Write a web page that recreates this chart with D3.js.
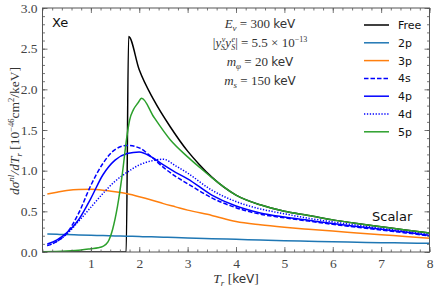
<!DOCTYPE html>
<html>
<head>
<meta charset="utf-8">
<script src="https://d3js.org/d3.v7.min.js"></script>
<style>
  body { margin:0; background:#fff; }
  svg text { fill:#333; }
  .serif { font-family:"Liberation Serif", "DejaVu Serif", serif; }
  .sans { font-family:"DejaVu Sans", "Noto Sans", sans-serif; }
</style>
</head>
<body>
<script>
// recoil energy grid (keV) shared by the bound-shell curves
const T = [0.1, 0.3, 0.5, 0.75, 1, 1.25, 1.5, 1.75, 2, 2.25, 2.5, 2.75, 3, 3.5, 4, 4.5, 5, 5.5, 6, 6.5, 7, 7.5, 8];
const s2p = [0.22, 0.217, 0.214, 0.21, 0.206, 0.202, 0.198, 0.195, 0.19, 0.186, 0.182, 0.178, 0.173, 0.164, 0.156, 0.147, 0.139, 0.132, 0.126, 0.12, 0.115, 0.111, 0.107];
const s3p = [0.713, 0.735, 0.755, 0.768, 0.77, 0.76, 0.74, 0.715, 0.68, 0.64, 0.595, 0.555, 0.515, 0.45, 0.375, 0.335, 0.305, 0.28, 0.257, 0.235, 0.213, 0.19, 0.168];
const s4s = [0.078, 0.13, 0.23, 0.48, 0.82, 1.09, 1.26, 1.31, 1.28, 1.17, 1.04, 0.93, 0.84, 0.665, 0.545, 0.465, 0.42, 0.38, 0.34, 0.305, 0.27, 0.235, 0.198];
const s4p = [0.098, 0.15, 0.235, 0.40, 0.66, 0.95, 1.13, 1.21, 1.23, 1.17, 1.07, 0.98, 0.90, 0.70, 0.565, 0.48, 0.43, 0.39, 0.35, 0.315, 0.28, 0.245, 0.205];
const s4d = [0.08, 0.13, 0.22, 0.38, 0.55, 0.72, 0.87, 0.98, 1.07, 1.12, 1.14, 1.06, 0.97, 0.76, 0.62, 0.53, 0.47, 0.415, 0.37, 0.33, 0.29, 0.255, 0.22];

// free electron and 5p have their own grids (sharp threshold near 1.75 keV)
const freeT = [0, 1.73, 1.78, 2.0, 2.3, 2.64, 3.0, 3.25, 3.5, 4, 4.5, 5, 5.5, 6, 6.5, 7, 7.5, 8];
const freeV = [0, 0, 2.65, 2.24, 1.87, 1.54, 1.24, 1.07, 0.92, 0.70, 0.58, 0.50, 0.45, 0.395, 0.35, 0.31, 0.27, 0.235];
const s5pT = [0, 0.5, 0.8, 1.0, 1.15, 1.25, 1.35, 1.45, 1.55, 1.65, 1.74, 1.8, 1.88, 1.97, 2.05, 2.3, 2.64, 3.0, 3.25, 3.5, 4, 4.5, 5, 5.5, 6, 6.5, 7, 7.5, 8];
const s5pV = [0.003, 0.012, 0.025, 0.04, 0.052, 0.07, 0.12, 0.28, 0.56, 0.96, 1.40, 1.62, 1.75, 1.83, 1.89, 1.66, 1.38, 1.17, 1.04, 0.915, 0.70, 0.58, 0.50, 0.45, 0.395, 0.35, 0.31, 0.27, 0.235];

const series = [
  { name: "Free", xs: freeT, ys: freeV, color: "#000000", dash: null },
  { name: "2p", xs: T, ys: s2p, color: "#1f77b4", dash: null },
  { name: "3p", xs: T, ys: s3p, color: "#ff7f0e", dash: null },
  { name: "4s", xs: T, ys: s4s, color: "#0000ff", dash: "4.5,2" },
  { name: "4p", xs: T, ys: s4p, color: "#0000ff", dash: null },
  { name: "4d", xs: T, ys: s4d, color: "#0000ff", dash: "1.3,1.6" },
  { name: "5p", xs: s5pT, ys: s5pV, color: "#2ca02c", dash: null }
];

const xTicks = [1, 2, 3, 4, 5, 6, 7, 8];
const yTicks = [0, 0.5, 1, 1.5, 2, 2.5, 3];

const width = 436, height = 290;
const x = d3.scaleLinear().domain([0, 8]).range([42.5, 429.5]);
const y = d3.scaleLinear().domain([0, 3]).range([252, 8]);

const svg = d3.select("body").append("svg")
  .attr("width", width).attr("height", height);

svg.append("defs").append("clipPath").attr("id", "clip")
  .append("rect").attr("x", x(0)).attr("y", y(3))
  .attr("width", x(8) - x(0)).attr("height", y(0) - y(3));

const line = d3.line().x(d => x(d[0])).y(d => y(d[1])).curve(d3.curveMonotoneX);

const plot = svg.append("g").attr("clip-path", "url(#clip)");
// draw order: free first, then shells
const order = ["Free", "2p", "3p", "4d", "4s", "4p", "5p"];
order.forEach(n => {
  const s = series.find(d => d.name === n);
  plot.append("path")
    .datum(s.xs.map((t, i) => [t, s.ys[i]]))
    .attr("d", line)
    .attr("fill", "none")
    .attr("stroke", s.color)
    .attr("stroke-width", 1.5)
    .attr("stroke-dasharray", s.dash);
});

// axes: ticks pointing in on all four sides
const minorX = d3.range(0, 8.001, 0.2);
const minorY = d3.range(0, 3.001, 0.1);
const axColor = "#555";

function styleAxis(g) {
  g.select(".domain").remove();
  g.selectAll("line").attr("stroke", axColor).attr("stroke-width", 0.8);
}

svg.append("g").attr("transform", `translate(0,${y(0)})`)
  .call(d3.axisBottom(x).tickValues(minorX).tickSize(-2.5).tickFormat(""))
  .call(styleAxis);
svg.append("g").attr("transform", `translate(0,${y(3)})`)
  .call(d3.axisTop(x).tickValues(minorX).tickSize(-2.5).tickFormat(""))
  .call(styleAxis);
svg.append("g").attr("transform", `translate(${x(0)},0)`)
  .call(d3.axisLeft(y).tickValues(minorY).tickSize(-2.5).tickFormat(""))
  .call(styleAxis);
svg.append("g").attr("transform", `translate(${x(8)},0)`)
  .call(d3.axisRight(y).tickValues(minorY).tickSize(-2.5).tickFormat(""))
  .call(styleAxis);

const xAxis = svg.append("g").attr("transform", `translate(0,${y(0)})`)
  .call(d3.axisBottom(x).tickValues(xTicks).tickSize(-5).tickPadding(6).tickFormat(d3.format("d")))
  .call(styleAxis);
svg.append("g").attr("transform", `translate(0,${y(3)})`)
  .call(d3.axisTop(x).tickValues(xTicks).tickSize(-5).tickFormat(""))
  .call(styleAxis);
const yAxis = svg.append("g").attr("transform", `translate(${x(0)},0)`)
  .call(d3.axisLeft(y).tickValues(yTicks).tickSize(-5).tickPadding(5).tickFormat(d3.format(".1f")))
  .call(styleAxis);
svg.append("g").attr("transform", `translate(${x(8)},0)`)
  .call(d3.axisRight(y).tickValues(yTicks).tickSize(-5).tickFormat(""))
  .call(styleAxis);

[xAxis, yAxis].forEach(a => a.selectAll("text")
  .attr("class", "serif").style("font-size", "13.5px").style("fill", "#444"));

// frame
svg.append("rect")
  .attr("x", x(0)).attr("y", y(3))
  .attr("width", x(8) - x(0)).attr("height", y(0) - y(3))
  .attr("fill", "none").attr("stroke", axColor).attr("stroke-width", 1);

// axis titles
const xt = svg.append("text").attr("class", "serif")
  .attr("x", 236).attr("y", 283).attr("text-anchor", "middle").style("font-size", "13.5px");
xt.append("tspan").style("font-style", "italic").text("T");
xt.append("tspan").style("font-style", "italic").style("font-size", "9px").attr("dy", 3).text("r");
xt.append("tspan").attr("dy", -3).text(" [");
xt.append("tspan").attr("class", "sans").style("font-size", "12px").text("keV");
xt.append("tspan").text("]");

const yt = svg.append("text").attr("class", "serif")
  .attr("transform", "translate(19,131) rotate(-90)")
  .attr("text-anchor", "middle").style("font-size", "13.5px");
yt.append("tspan").style("font-style", "italic").text("dσ");
yt.append("tspan").style("font-style", "italic").style("font-size", "9px").attr("dy", -5).text("nl");
yt.append("tspan").style("font-style", "italic").attr("dy", 5).text("/dT");
yt.append("tspan").style("font-style", "italic").style("font-size", "9px").attr("dy", 3).text("r");
yt.append("tspan").attr("dy", -3).text(" [10");
yt.append("tspan").style("font-size", "8.5px").attr("dy", -5).text("−46");
yt.append("tspan").attr("dy", 5).text("cm");
yt.append("tspan").style("font-size", "8.5px").attr("dy", -5).text("2");
yt.append("tspan").attr("dy", 5).text("/keV]");

// labels inside the plot
svg.append("text").attr("class", "sans").attr("x", 52).attr("y", 27)
  .style("font-size", "13px").style("fill", "#111").text("Xe");
svg.append("text").attr("class", "sans").attr("x", 372).attr("y", 221)
  .style("font-size", "13px").style("fill", "#111").text("Scalar");

// parameter block
const cx = 260;
const p1 = svg.append("text").attr("class", "serif").attr("x", cx).attr("y", 28)
  .attr("text-anchor", "middle").style("font-size", "13px");
p1.append("tspan").style("font-style", "italic").text("E");
p1.append("tspan").style("font-style", "italic").style("font-size", "9px").attr("dy", 3).text("ν");
p1.append("tspan").attr("dy", -3).text(" = 300 ");
p1.append("tspan").attr("class", "sans").style("font-size", "12px").text("keV");

const p2 = svg.append("text").attr("class", "serif").attr("x", cx).attr("y", 47)
  .attr("text-anchor", "middle").style("font-size", "13px");
p2.append("tspan").text("|");
p2.append("tspan").style("font-style", "italic").text("y");
p2.append("tspan").style("font-style", "italic").style("font-size", "8px").attr("dx", 0.5).attr("dy", -5).text("ν");
p2.append("tspan").style("font-style", "italic").style("font-size", "8px").attr("dx", -4.5).attr("dy", 8).text("S");
p2.append("tspan").style("font-style", "italic").attr("dx", 0.5).attr("dy", -3).text("y");
p2.append("tspan").style("font-style", "italic").style("font-size", "8px").attr("dx", 0.5).attr("dy", -5).text("e");
p2.append("tspan").style("font-style", "italic").style("font-size", "8px").attr("dx", -4).attr("dy", 8).text("S");
p2.append("tspan").attr("dy", -3).text("| = 5.5 × 10");
p2.append("tspan").style("font-size", "8px").attr("dy", -5).text("−13");

const p3 = svg.append("text").attr("class", "serif").attr("x", cx).attr("y", 66)
  .attr("text-anchor", "middle").style("font-size", "13px");
p3.append("tspan").style("font-style", "italic").text("m");
p3.append("tspan").style("font-style", "italic").style("font-size", "9px").attr("dy", 3).text("φ");
p3.append("tspan").attr("dy", -3).text(" = 20 ");
p3.append("tspan").attr("class", "sans").style("font-size", "12px").text("keV");

const p4 = svg.append("text").attr("class", "serif").attr("x", cx).attr("y", 85)
  .attr("text-anchor", "middle").style("font-size", "13px");
p4.append("tspan").style("font-style", "italic").text("m");
p4.append("tspan").style("font-style", "italic").style("font-size", "9px").attr("dy", 3).text("s");
p4.append("tspan").attr("dy", -3).text(" = 150 ");
p4.append("tspan").attr("class", "sans").style("font-size", "12px").text("keV");

// legend
const legend = svg.selectAll(".legend").data(series).enter().append("g")
  .attr("class", "legend")
  .attr("transform", (d, i) => `translate(0,${25 + i * 17.8})`);
legend.append("line")
  .attr("x1", 364).attr("x2", 389).attr("y1", 0).attr("y2", 0)
  .attr("stroke", d => d.color).attr("stroke-width", 1.5)
  .attr("stroke-dasharray", d => d.dash);
legend.append("text").attr("class", "sans")
  .attr("x", 398).attr("y", 4)
  .style("font-size", "11px").style("fill", "#111")
  .text(d => d.name);
</script>
</body>
</html>
